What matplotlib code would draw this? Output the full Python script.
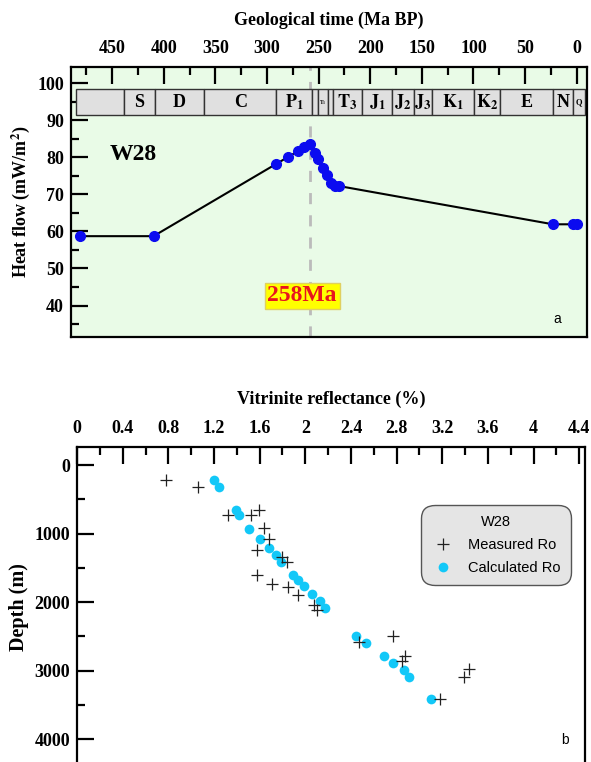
"""Heat flow history (a) and vitrinite reflectance profile (b) for well W28."""
import matplotlib

matplotlib.use("Agg")
import matplotlib.pyplot as plt  # noqa: E402
from matplotlib.patches import Rectangle  # noqa: E402
from matplotlib.ticker import MultipleLocator  # noqa: E402

plt.rcParams["font.family"] = ["Liberation Serif", "DejaVu Serif"]
plt.rcParams["font.weight"] = "bold"
plt.rcParams["mathtext.fontset"] = "stix"

# heat flow history
age_ma = [481, 410, 291, 280, 270, 264, 258.5, 254, 250.5, 245.5, 241.5, 238,
          234, 230, 23, 3.3, 0]
heat_flow = [58.7, 58.7, 78.2, 80.0, 81.6, 82.8, 83.6, 81.2, 79.6, 77.1, 75.3,
             73.1, 72.3, 72.2, 61.9, 61.9, 61.9]

# stratigraphic column: (start, end, label)
strata_start = [485, 439, 409, 361, 291, 256, 251, 241, 236, 208, 179, 158,
                140, 99, 74, 23, 3.3]
strata_end = [439, 409, 361, 291, 256, 251, 241, 236, 208, 179, 158, 140, 99,
              74, 23, 3.3, -8]
strata_label = ["", "S", "D", "C", r"$\mathbf{P}_{\mathbf{1}}$", "",
                r"$\mathbf{T}_{\mathbf{1}}$", "", r"$\mathbf{T}_{\mathbf{3}}$",
                r"$\mathbf{J}_{\mathbf{1}}$", r"$\mathbf{J}_{\mathbf{2}}$",
                r"$\mathbf{J}_{\mathbf{3}}$", r"$\mathbf{K}_{\mathbf{1}}$",
                r"$\mathbf{K}_{\mathbf{2}}$", "E", "N", "Q"]
strata_size = [13, 13, 13, 13, 13, 5, 4, 5, 13, 13, 13, 13, 13, 13, 13, 13, 6]

# vitrinite reflectance
meas_ro = [0.78, 1.06, 1.32, 1.52, 1.59, 1.64, 1.68, 1.58, 1.80, 1.84, 1.58,
           1.71, 1.85, 1.94, 2.08, 2.10, 2.47, 2.77, 2.87, 2.85, 3.43, 3.39,
           3.18]
meas_depth = [220, 327, 725, 725, 650, 918, 1073, 1234, 1343, 1415, 1600, 1740,
              1781, 1895, 2035, 2110, 2587, 2489, 2785, 2855, 2977, 3090, 3406]
calc_ro = [1.20, 1.24, 1.39, 1.42, 1.51, 1.60, 1.68, 1.74, 1.79, 1.89, 1.94,
           1.99, 2.06, 2.13, 2.17, 2.44, 2.53, 2.69, 2.77, 2.86, 2.91, 3.10]
calc_depth = [220, 327, 649, 732, 927, 1073, 1215, 1318, 1415, 1598, 1684, 1772,
              1879, 1987, 2089, 2489, 2596, 2792, 2889, 2987, 3085, 3406]

TICK_FS = 13

fig = plt.figure(figsize=(5.91, 7.62), dpi=100)

# ---- panel a ----
ax = fig.add_axes([0.1201, 0.5577, 0.8731, 0.3543])
ax.set_facecolor("#e9fbe7")
ax.set_xlim(490, -10)
ax.set_ylim(31.5, 104.3)
for s, e, lab, fs in zip(strata_start, strata_end, strata_label, strata_size):
    ax.add_patch(Rectangle((s, 91.4), e - s, 6.9, facecolor="#e0e0e0",
                           edgecolor="#333333", lw=1.0, zorder=2))
    if lab:
        ax.text((s + e) / 2, 94.8, lab, ha="center", va="center", fontsize=fs,
                fontweight="bold", zorder=3)
ax.axvline(258, color="#bbbbbb", lw=2, ls=(0, (4, 4)), zorder=1)
ax.plot(age_ma, heat_flow, color="black", lw=1.5, zorder=4)
ax.plot(age_ma, heat_flow, "o", color="#0b0bf0", ms=7, zorder=5)
ax.text(430, 80.8, "W28", fontsize=17, fontweight="bold", ha="center",
        va="center")
ax.text(266, 42.6, "258Ma", fontsize=17, fontweight="bold", color="#e8141e",
        ha="center", va="center", zorder=6,
        bbox=dict(boxstyle="square,pad=0.12", fc="#ffff00", ec="#e0d060"))
ax.text(0.942, 0.067, "a", transform=ax.transAxes, fontsize=10,
        fontweight="normal", family="Liberation Sans", ha="center",
        va="center")
ax.xaxis.set_major_locator(MultipleLocator(50))
ax.xaxis.set_minor_locator(MultipleLocator(25))
ax.yaxis.set_minor_locator(MultipleLocator(5))
ax.set_yticks(range(40, 101, 10))
ax.tick_params(which="both", direction="in", top=True, bottom=False,
               labeltop=True, labelbottom=False, left=True, right=False,
               width=1.6, labelsize=TICK_FS)
ax.tick_params(which="major", length=12)
ax.tick_params(which="minor", length=6)
ax.tick_params(axis="x", pad=7)
ax.tick_params(axis="y", pad=5)
ax.xaxis.set_label_position("top")
ax.set_xlabel("Geological time (Ma BP)", fontsize=13, fontweight="bold",
              labelpad=11)
ax.set_ylabel(r"Heat flow (mW/m$^\mathbf{2}$)", fontsize=13,
              fontweight="bold", labelpad=4)
for sp in ax.spines.values():
    sp.set_linewidth(1.6)

# ---- panel b ----
bx = fig.add_axes([0.1303, -0.0079, 0.8596, 0.4213])
bx.set_xlim(0, 4.45)
bx.set_ylim(4420, -263)
bx.plot(meas_ro, meas_depth, "+", color="#222222", ms=9, mew=0.9,
        label="Measured Ro", zorder=3)
bx.plot(calc_ro, calc_depth, "o", color="#12c8f8", ms=7, mew=0,
        label="Calculated Ro", zorder=2)
bx.xaxis.set_minor_locator(MultipleLocator(0.2))
bx.yaxis.set_minor_locator(MultipleLocator(500))
bx.set_xticks([0, 0.4, 0.8, 1.2, 1.6, 2, 2.4, 2.8, 3.2, 3.6, 4, 4.4])
bx.set_xticklabels(["0", "0.4", "0.8", "1.2", "1.6", "2", "2.4", "2.8", "3.2",
                    "3.6", "4", "4.4"])
bx.set_yticks([0, 1000, 2000, 3000, 4000])
bx.tick_params(which="both", direction="in", top=True, bottom=False,
               labeltop=True, labelbottom=False, left=True, right=False,
               width=1.6, labelsize=TICK_FS)
bx.tick_params(which="major", length=12)
bx.tick_params(which="minor", length=6)
bx.tick_params(axis="x", pad=7)
bx.tick_params(axis="y", pad=5)
bx.xaxis.set_label_position("top")
bx.set_xlabel("Vitrinite reflectance (%)", fontsize=13, fontweight="bold",
              labelpad=12)
bx.set_ylabel("Depth (m)", fontsize=14.5, fontweight="bold", labelpad=4)
for sp in bx.spines.values():
    sp.set_linewidth(1.6)
leg = bx.legend(loc="upper left", bbox_to_anchor=(0.678, 0.819), title="W28",
                prop={"family": "Liberation Sans", "size": 10.5,
                      "weight": "normal"},
                frameon=True, fancybox=True, facecolor="#e5e5e5",
                edgecolor="#555555", framealpha=1, borderpad=0.7,
                borderaxespad=0, handletextpad=1.0, labelspacing=0.6,
                handlelength=1.5)
leg.get_title().set_fontfamily("Liberation Sans")
leg.get_title().set_fontweight("normal")
leg.get_title().set_fontsize(10.5)
leg.get_frame().set_linewidth(1.0)
leg.get_frame().set_boxstyle("round,pad=0,rounding_size=0.9")
bx.text(0.96, 0.087, "b", transform=bx.transAxes, fontsize=10,
        fontweight="normal", family="Liberation Sans", ha="center",
        va="center")

fig.savefig("out.png", dpi=100)
plt.close(fig)
